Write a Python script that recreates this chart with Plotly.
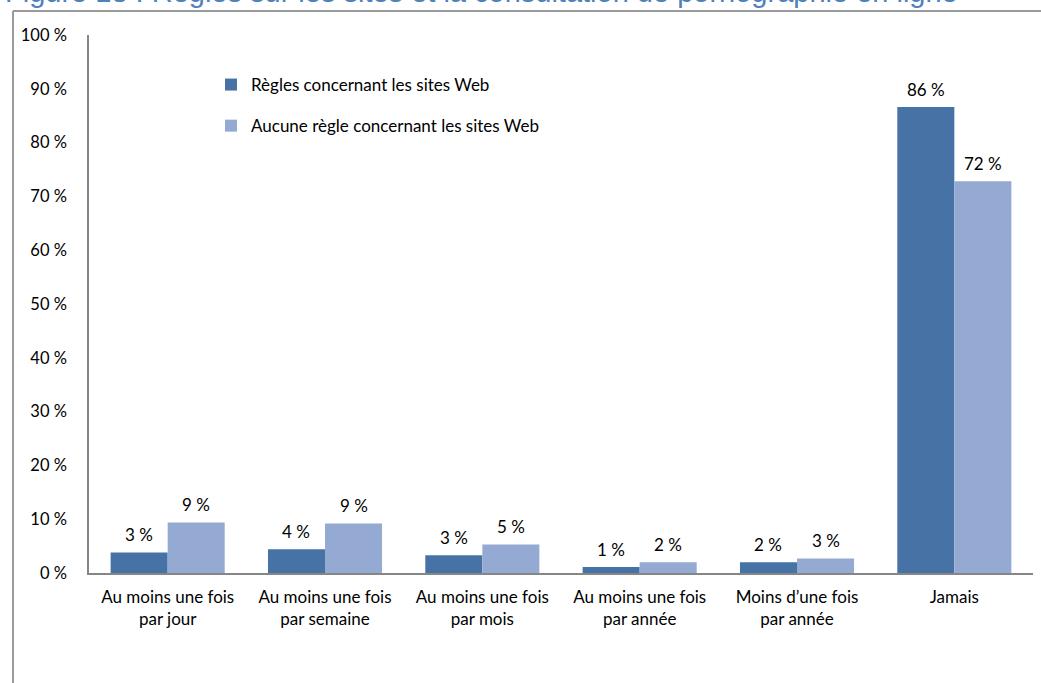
import plotly.graph_objects as go

categories = [
    "Au moins une fois<br>par jour",
    "Au moins une fois<br>par semaine",
    "Au moins une fois<br>par mois",
    "Au moins une fois<br>par année",
    "Moins d’une fois<br>par année",
    "Jamais",
]
series_names = ["Règles concernant les sites Web", "Aucune règle concernant les sites Web"]
regles = [3.8, 4.4, 3.3, 1.1, 2.0, 86.6]
aucune = [9.4, 9.2, 5.3, 2.0, 2.7, 72.8]
regles_labels = ["3 %", "4 %", "3 %", "1 %", "2 %", "86 %"]
aucune_labels = ["9 %", "9 %", "5 %", "2 %", "3 %", "72 %"]
y_ticks = [0, 10, 20, 30, 40, 50, 60, 70, 80, 90, 100]
y_tick_text = [f"{v} %" for v in y_ticks]
title_text = "Figure 18 : Règles sur les sites et la consultation de pornographie en ligne"

colors = ["#4672A6", "#95AAD3"]
FONT = "Lato"
FS = 17
W, H = 1041, 683
L, R, T, B = 89, 8, 35, 110
pw, ph = W - L - R, H - T - B
bargap = 0.275

fig = go.Figure()
for name, vals, col, grp in zip(series_names, [regles, aucune], colors, ["g1", "g2"]):
    fig.add_trace(go.Bar(
        x=categories, y=vals, name=name, marker=dict(color=col, line=dict(width=0)),
        legendgroup=grp,
    ))

# value labels via annotations positioned at data coordinates
bar_w_px = pw / len(categories) * (1 - bargap) / 2
annotations = []
for vals, labels, sign in [(regles, regles_labels, -1), (aucune, aucune_labels, 1)]:
    for c, v, t in zip(categories, vals, labels):
        annotations.append(dict(
            x=c, y=v, text=t, showarrow=False, xshift=sign * bar_w_px / 2, yshift=18,
            yanchor="middle", font=dict(family=FONT, size=FS, color="#000000"),
        ))

# title (partially cut at top like the reference)
annotations.append(dict(
    x=(3 - L) / pw, y=(H - B + 8) / ph, xref="paper", yref="paper", xanchor="left", yanchor="middle",
    text=title_text, showarrow=False,
    font=dict(family="Liberation Sans", size=29, color="#4F81BD"),
))

fig.update_layout(
    width=W, height=H,
    margin=dict(l=L, r=R, t=T, b=B, autoexpand=False),
    paper_bgcolor="white", plot_bgcolor="white",
    barmode="group", bargap=bargap, bargroupgap=0,
    font=dict(family=FONT, size=FS, color="#000000"),
    showlegend=True,
    legend=dict(
        x=(231 - 20 - L) / pw, y=(H - B - 67) / ph, xanchor="left", yanchor="top",
        font=dict(family=FONT, size=FS, color="#000000"), bgcolor="rgba(0,0,0,0)",
        tracegroupgap=16, traceorder="grouped", itemwidth=30,
    ),
    xaxis=dict(
        showline=True, linecolor="#868686", linewidth=1.5, ticks="", showgrid=False,
        tickfont=dict(family=FONT, size=FS), ticklabelstandoff=8, fixedrange=True,
    ),
    yaxis=dict(
        range=[0, 100], tickvals=y_ticks, ticktext=y_tick_text, showline=True,
        linecolor="#868686", linewidth=1.5, showgrid=False, ticks="", zeroline=False,
        tickfont=dict(family=FONT, size=16.5), ticklabelstandoff=17, fixedrange=True,
    ),
    annotations=annotations,
    shapes=[
        dict(type="line", xref="paper", yref="paper", x0=(13 - L) / pw, x1=(W + 5 - L) / pw,
             y0=(H - B - 11) / ph, y1=(H - B - 11) / ph, line=dict(color="#9A9A9A", width=2)),
        dict(type="line", xref="paper", yref="paper", x0=(13 - L) / pw, x1=(13 - L) / pw,
             y0=(H - B - 11) / ph, y1=(-10 - B) / ph, line=dict(color="#9A9A9A", width=2)),
    ],
)

fig.write_html("out.html")
